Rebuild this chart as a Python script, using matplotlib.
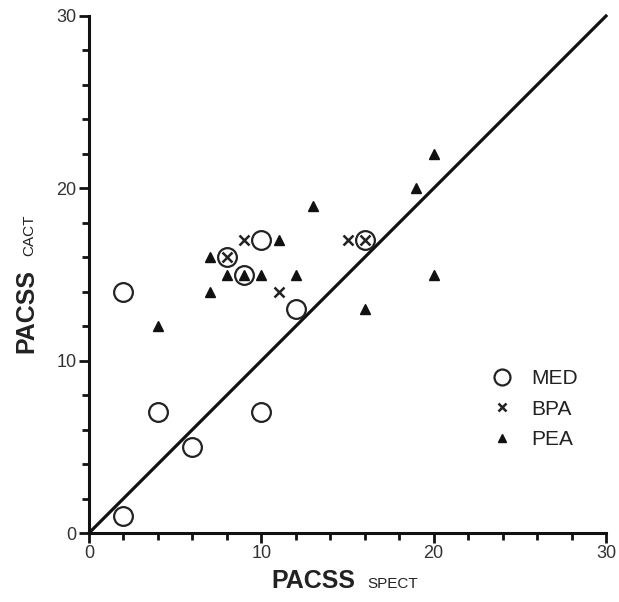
"""
PACSS CACT vs PACSS SPECT scatter with identity line.
"""

import matplotlib.pyplot as plt
from matplotlib.ticker import MultipleLocator

# Data
# ------------------------------------------------------------------------------

med_x = [2, 4, 6, 10, 2, 12, 9, 8, 10, 16]
med_y = [1, 7, 5, 7, 14, 13, 15, 16, 17, 17]

bpa_x = [8, 9, 11, 15, 16]
bpa_y = [16, 17, 14, 17, 17]

pea_x = [4, 7, 7, 8, 9, 10, 11, 12, 13, 16, 19, 20, 20]
pea_y = [12, 14, 16, 15, 15, 15, 17, 15, 19, 13, 20, 22, 15]

ident = [0, 30]

# Plot
# ------------------------------------------------------------------------------

plt.rcParams['font.family'] = ['Liberation Sans', 'DejaVu Sans']

fig = plt.figure(figsize=(6.19, 6.02), dpi=100)
ax = fig.add_axes([89 / 619, 69 / 602, 517 / 619, 517 / 602])

ax.plot(ident, ident, c='#111111', lw=2.3, clip_on=False, zorder=1)

ax.plot(med_x, med_y, 'o', ms=13.5, mfc='none', mec='#222222', mew=1.6,
        label='MED', clip_on=False, zorder=3)
ax.plot(bpa_x, bpa_y, 'x', ms=7, mec='#222222', mew=1.8,
        label='BPA', clip_on=False, zorder=4)
ax.plot(pea_x, pea_y, '^', ms=6.5, mfc='#111111', mec='#111111',
        label='PEA', clip_on=False, zorder=4)

ax.set_xlim(0, 30)
ax.set_ylim(0, 30)
ax.xaxis.set_major_locator(MultipleLocator(10))
ax.yaxis.set_major_locator(MultipleLocator(10))
ax.xaxis.set_minor_locator(MultipleLocator(2))
ax.yaxis.set_minor_locator(MultipleLocator(2))

for s in ['top', 'right']:
    ax.spines[s].set_visible(False)
for s in ['left', 'bottom']:
    ax.spines[s].set_linewidth(2.2)
    ax.spines[s].set_color('#111111')

ax.tick_params(which='major', length=7, width=2, color='#111111',
               labelsize=13, labelcolor='#333333', pad=2)
ax.tick_params(which='minor', length=5, width=2, color='#111111')

leg = ax.legend(loc='upper left', bbox_to_anchor=(0.763, 0.333), frameon=False,
                fontsize=15, handletextpad=0.9, labelspacing=0.55,
                handlelength=1.0, markerscale=0.85, borderaxespad=0)
for t in leg.get_texts():
    t.set_color('#222222')

# axis labels with small caps style subscripts
fig.text(271 / 619, 1 - 588 / 602, 'PACSS', fontsize=18, fontweight='bold',
         color='#222222', va='baseline', ha='left')
fig.text(367 / 619, 1 - 588 / 602, 'SPECT', fontsize=11,
         color='#222222', va='baseline', ha='left')

fig.text(33 / 619, 1 - 353 / 602, 'PACSS', fontsize=18, fontweight='bold',
         color='#222222', va='baseline', ha='left', rotation=90,
         rotation_mode='anchor')
fig.text(33 / 619, 1 - 256 / 602, 'CACT', fontsize=11,
         color='#222222', va='baseline', ha='left', rotation=90,
         rotation_mode='anchor')

plt.savefig('out.png', dpi=100)
